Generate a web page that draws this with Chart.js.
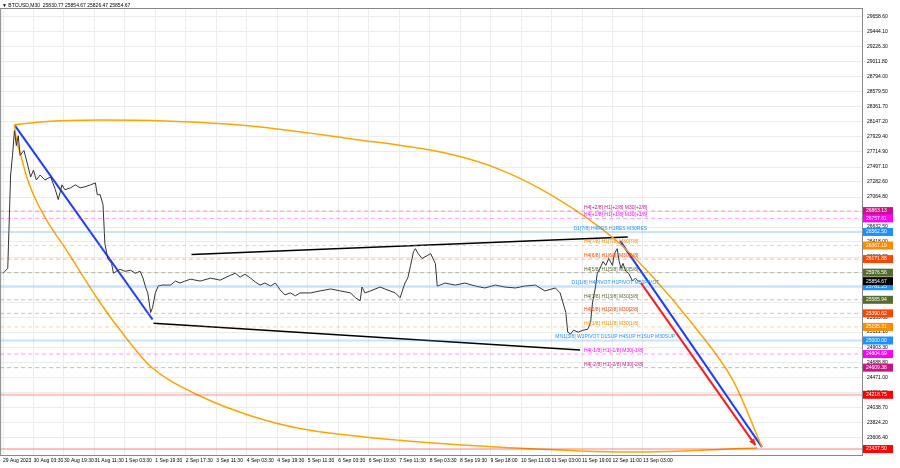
<!DOCTYPE html>
<html><head><meta charset="utf-8">
<script src="https://cdn.jsdelivr.net/npm/chart.js@4"></script>
<style>html,body{margin:0;padding:0;background:#fff}#w{width:900px;height:468px;position:relative}</style>
</head><body><div id="w"><canvas id="c"></canvas></div>
<script>
const title = "BTCUSD,M30  25830.77 25854.67 25826.47 25854.67";
const xTickLabels = ["29 Aug 2023","30 Aug 03:30","30 Aug 19:30","31 Aug 11:30","1 Sep 03:30","1 Sep 19:30","2 Sep 17:30","3 Sep 11:30","4 Sep 03:30","4 Sep 19:30","5 Sep 11:30","6 Sep 03:30","6 Sep 19:30","7 Sep 11:30","8 Sep 03:30","8 Sep 19:30","9 Sep 18:00","10 Sep 11:00","11 Sep 03:00","11 Sep 19:00","12 Sep 11:00","13 Sep 03:00"];
const barsPerLabel = 32;
const yTicks = [29658.6,29444.1,29226.3,29011.8,28794.0,28579.5,28361.7,28147.2,27929.4,27714.9,27497.1,27282.6,27064.8,26850.3,26632.5,26418.0,26200.2,25985.7,25767.9,25553.4,25335.6,25121.1,24903.3,24688.8,24471.0,24256.5,24038.7,23824.2,23606.4];
const priceBars = [0,2,5,8,10,12,14,16,18,22,26,29,32,35,39,44,50,55,58,62,65,71,76,81,86,92,97,99,102,105,107,110,114,116,119,123,128,134,139,144,147,150,152,155,157,160,163,167,176,181,186,191,197,207,218,228,239,244,249,254,260,265,270,275,281,286,291,296,302,307,312,323,333,344,354,365,370,375,377,380,386,396,401,412,417,422,425,428,431,433,436,440,449,454,456,459,464,475,485,496,506,517,527,538,548,559,569,580,585,588,591,593,596,599,604,609,614,617,619,622,624,627,630,633,636,640,642,645,647,649,651,654,657,661,664,667,669];
const priceClose = [25968,25996,26039,27382,27665,28018,27806,27948,27665,27736,27523,27354,27453,27311,27382,27311,27354,27170,27029,27241,27170,27198,27241,27198,27212,27241,27269,27099,27099,26958,26392,26180,26110,25968,25996,26025,25996,26011,25968,25996,25898,25756,25685,25402,25473,25685,25784,25798,25798,25855,25827,25855,25883,25855,25898,25869,25940,25968,25912,25954,25898,25841,25798,25827,25784,25827,25728,25657,25685,25643,25685,25685,25714,25742,25714,25685,25615,25572,25770,25685,25714,25770,25742,25685,25615,25827,25898,26081,26279,26322,26251,26180,26251,26110,25784,25798,25827,25798,25827,25784,25756,25798,25770,25756,25784,25798,25714,25756,25685,25544,25402,25120,25092,25148,25120,25148,25162,25261,25544,25756,25968,26039,26138,26081,26180,26081,26251,26322,26138,26039,26110,25996,25968,25855,25898,25855,25854];
const levels = [26863.13,26757.81,26562.50,26367.19,26171.88,25976.56,25781.25,25585.94,25390.62,25195.31,25000.00,24804.69,24609.38,24218.75,23437.50];
const levelNames = ["H4[+2/8] H1[+2/8] M30[+2/8]","H4[+1/8] H1[+1/8] M30[+1/8]","D1[7/8] H4RES H1RES M30RES","H4[7/8] H1[7/8] M30[7/8]","H4[6/8] H1[6/8] M30[6/8]","H4[5/8] H1[5/8] M30[5/8]","D1[1/8] H4PIVOT H1PIVOT M30PIVOT","H4[3/8] H1[3/8] M30[3/8]","H4[2/8] H1[2/8] M30[2/8]","H4[1/8] H1[1/8] M30[1/8]","MN1[3/8] W1PIVOT D1SUP H4SUP H1SUP M30SUP","H4[-1/8] H1[-1/8] M30[-1/8]","H4[-2/8] H1[-2/8] M30[-2/8]","",""];
const levelColors = ["#c71585","#ff00ff","#1e90ff","#ff8c00","#ff4500","#556b2f","#1e90ff","#556b2f","#ff4500","#ff8c00","#1e90ff","#ff00ff","#c71585","#ff0000","#ff0000"];
const levelLabelBar = [610,610,599,610,610,610,597,610,610,610,580,610,610,0,0];
const currentPrice = 25854.67;
const blueLine1 = [[12,28104],[157,25303]];
const blueLine2 = [[648,26435],[797,23465]];
const redLine = [[670,25827],[790,23494]];
const blackUpper = [[198,26237],[656,26491]];
const blackLower = [[158,25247],[606,24865]];
const orangeUpper = [[12,28104],[39,28146],[102,28174],[170,28160],[260,28089],[365,27905],[470,27680],[520,27470],[575,27099],[643,26450],[680,25950],[725,25219],[767,24413],[797,23465]];
const orangeLower = [[12,28104],[14,27900],[18,27700],[25,27350],[32,27099],[45,26750],[67,26293],[102,25544],[131,25007],[155,24625],[207,24201],[260,23918],[312,23734],[417,23564],[522,23465],[659,23395],[792,23451]];

const pts = a => a.map(p=>({x:p[0],y:p[1]}));
const ds = [];
levels.forEach((v,i)=>{
  const solid = levelColors[i]==="#1e90ff"||levelColors[i]==="#ff0000";
  ds.push({data:[{x:-3,y:v},{x:902,y:v}],borderColor:levelColors[i]+(solid?"40":"66"),borderWidth:solid?2:1,borderDash:solid?[]:[4,3],pointRadius:0});
});
ds.push({data:priceBars.map((b,i)=>({x:b,y:priceClose[i]})),borderColor:"#333",borderWidth:1,pointRadius:0,tension:0});
ds.push({data:pts(orangeUpper),borderColor:"#ffa500",borderWidth:1.5,pointRadius:0,cubicInterpolationMode:'monotone'});
ds.push({data:pts(orangeLower),borderColor:"#ffa500",borderWidth:1.5,pointRadius:0,cubicInterpolationMode:'monotone'});
ds.push({data:pts(blackUpper),borderColor:"#000",borderWidth:1.5,pointRadius:0});
ds.push({data:pts(blackLower),borderColor:"#000",borderWidth:1.5,pointRadius:0});
ds.push({data:pts(blueLine1),borderColor:"#1e3cff",borderWidth:2,pointRadius:0});
ds.push({data:pts(blueLine2),borderColor:"#1e3cff",borderWidth:2,pointRadius:0});
ds.push({data:pts(redLine),borderColor:"#ff1a1a",borderWidth:2,pointRadius:0});

const overlay = {id:'ov',afterDatasetsDraw(ch){
  const c=ch.ctx,x=ch.scales.x,y=ch.scales.y,a=ch.chartArea;
  c.save();
  c.font="5px 'Liberation Sans'";c.textBaseline="bottom";
  levels.forEach((v,i)=>{ if(levelNames[i]){c.fillStyle=levelColors[i];c.fillText(levelNames[i],x.getPixelForValue(levelLabelBar[i]),y.getPixelForValue(v)-1);} });
  const ex=x.getPixelForValue(redLine[1][0]),ey=y.getPixelForValue(redLine[1][1]);
  const sx=x.getPixelForValue(redLine[0][0]),sy=y.getPixelForValue(redLine[0][1]);
  const ang=Math.atan2(ey-sy,ex-sx);
  c.fillStyle="#ff1a1a";c.beginPath();c.moveTo(ex,ey);
  c.lineTo(ex-7*Math.cos(ang-0.45),ey-7*Math.sin(ang-0.45));
  c.lineTo(ex-7*Math.cos(ang+0.45),ey-7*Math.sin(ang+0.45));c.fill();
  c.textBaseline="middle";c.font="5px 'Liberation Sans'";
  const box=(v,col)=>{const py=y.getPixelForValue(v);c.fillStyle=col;c.fillRect(a.right+1,py-4,30,8);c.fillStyle="#fff";c.fillText(v.toFixed(2),a.right+4,py);};
  levels.forEach((v,i)=>box(v,levelColors[i]));
  box(currentPrice,"#000");
  c.fillStyle="#000";c.textBaseline="top";c.font="5px 'Liberation Sans'";
  c.fillText("▼ "+title,2,3);
  c.strokeStyle="#888";c.lineWidth=1;c.strokeRect(a.left+0.5,a.top+0.5,a.right-a.left,a.bottom-a.top);
  c.restore();
}};

new Chart(document.getElementById('c'),{
  type:'line',
  data:{datasets:ds},
  options:{responsive:true,maintainAspectRatio:false,animation:false,
    layout:{padding:0},
    plugins:{legend:{display:false},tooltip:{enabled:false}},
    scales:{
      x:{type:'linear',min:-3,max:902,
        afterBuildTicks:s=>{s.ticks=xTickLabels.map((_,i)=>({value:i*barsPerLabel}));},
        afterFit:s=>{s.height=13;},
        ticks:{autoSkip:false,maxRotation:0,padding:3,font:{size:5,family:'Liberation Sans'},color:'#000',align:'start',
          callback:(v)=>xTickLabels[Math.round(v/barsPerLabel)]},
        grid:{color:'#ececec',drawTicks:false},border:{display:false}},
      y:{position:'right',min:23352,max:29786,
        afterBuildTicks:s=>{s.ticks=yTicks.map(v=>({value:v}));},
        afterFit:s=>{s.width=38;},
        ticks:{autoSkip:false,padding:5,font:{size:5,family:'Liberation Sans'},color:'#000',callback:v=>v.toFixed(2)},
        grid:{color:'#ececec',drawTicks:false},border:{display:false}}
    }},
  plugins:[overlay]
});
</script></body></html>
